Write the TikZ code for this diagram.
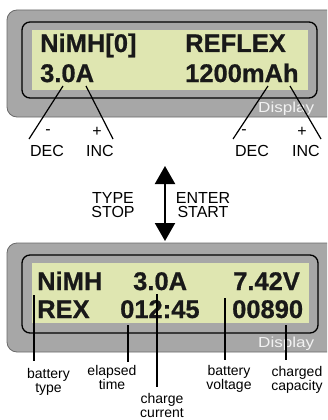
\documentclass[tikz,border=0pt]{standalone}
\usepackage{fontspec}
\usepackage{graphicx}
\setmainfont{Liberation Sans}
\newfontfamily\lcdfont{Liberation Sans}[UprightFont={* Bold}, FakeBold=0.7]
\usetikzlibrary{positioning,arrows.meta}
\definecolor{casegray}{HTML}{A7A7A7}
\definecolor{caseedge}{HTML}{6A6A6A}
\definecolor{lcdgreen}{HTML}{DFE6B1}

\begin{document}
\begin{tikzpicture}[
  x=1pt, y=-1pt,
  housing/.style={draw=caseedge, fill=casegray, line width=0.8pt, rounded corners=10pt},
  bezel/.style={draw=black, fill=casegray, line width=1.3pt, rounded corners=8pt},
  lcd/.style={fill=lcdgreen},
  digit/.style={anchor=base west, inner sep=0pt, text=black!90, font=\fontsize{25.5}{28}\selectfont\lcdfont},
  tag/.style={anchor=base west, inner sep=0pt, text=white!90!gray, font=\fontsize{14.5}{16}\selectfont},
  key/.style={inner sep=0pt, align=center, font=\fontsize{16}{14.5}\selectfont},
  note/.style={anchor=north, inner sep=0pt, align=center, font=\fontsize{14}{14.5}\selectfont},
  pin/.style={line width=1.2pt}
]
\useasboundingbox (0,0) rectangle (327,420);
\clip (0,0) rectangle (327,420);

% upper display
\draw[housing] (7,10) rectangle (340,117);
\draw[bezel] (22,22) rectangle (317,98);
\fill[lcd] (32,30) rectangle (308,90);
\node[digit] (d-type) at (40,52) {NiMH[0]};
\node[digit] (d-mode) at (185,52) {REFLEX};
\node[digit] (d-amp) at (40,82) {3.0A};
\node[digit] (d-cap) at (185,82) {1200mAh};
\node[tag] (t-up) at (258,112) {\scalebox{1.18}[1]{Display}};

\coordinate (a1) at (63,86);  \coordinate (b1) at (29,139);
\coordinate (a2) at (86,86);  \coordinate (b2) at (113,139);
\coordinate (a3) at (268,86); \coordinate (b3) at (233,139);
\coordinate (a4) at (290,86); \coordinate (b4) at (321,139);
\draw[pin] (a1) -- (b1);
\draw[pin] (a2) -- (b2);
\draw[pin] (a3) -- (b3);
\draw[pin] (a4) -- (b4);

\node[key] (m1) at (48,132) {-};
\node[key] (p1) at (97,132) {+};
\node[key] (m2) at (244,132) {-};
\node[key] (p2) at (302,132) {+};
\node[key] (dec1) at (47,151) {DEC};
\node[key] (inc1) at (100,151) {INC};
\node[key] (dec2) at (252,151) {DEC};
\node[key] (inc2) at (306,151) {INC};

% mode switch
\coordinate (up) at (165,166);
\coordinate (dn) at (165,241);
\draw[{Triangle[width=20pt,length=18pt]}-{Triangle[width=20pt,length=18pt]}, line width=2pt] (up) -- (dn);
\node[key] (k-left) at (113,205) {TYPE\\STOP};
\node[key] (k-right) at (203,205) {ENTER\\START};

% lower display
\draw[housing] (7,243) rectangle (340,352);
\draw[bezel] (22,255) rectangle (318,333);
\fill[lcd] (32,263) rectangle (309,323);
\node[digit] (s-type) at (37,290) {NiMH};
\node[digit] (s-amp) at (133,290) {3.0A};
\node[digit] (s-volt) at (233,290) {7.42V};
\node[digit] (s-prog) at (37,318) {REX};
\node[digit] (s-time) at (120,318) {012:45};
\node[digit] (s-cap) at (232,318) {00890};
\node[tag] (t-dn) at (258,347) {\scalebox{1.18}[1]{Display}};

\node[note] (n-type) at (48.5,368) {battery\\type};
\node[note] (n-time) at (112,365) {elapsed\\time};
\node[note] (n-amp) at (162,393) {charge\\current};
\node[note] (n-volt) at (229,365) {battery\\voltage};
\node[note] (n-cap) at (297,366) {charged\\capacity};

\coordinate (q-type) at (34,295);
\coordinate (q-time) at (128,325);
\coordinate (q-amp) at (157,294);
\coordinate (q-volt) at (225,298);
\coordinate (q-cap) at (286,325);
\draw[pin, shorten >=7pt] (q-type) -- (q-type |- n-type.north);
\draw[pin, shorten >=3pt] (q-time) -- (q-time |- n-time.north);
\draw[pin, shorten >=6pt] (q-amp) -- (q-amp |- n-amp.north);
\draw[pin, shorten >=5pt] (q-volt) -- (q-volt |- n-volt.north);
\draw[pin, shorten >=6pt] (q-cap) -- (q-cap |- n-cap.north);
\end{tikzpicture}
\end{document}
